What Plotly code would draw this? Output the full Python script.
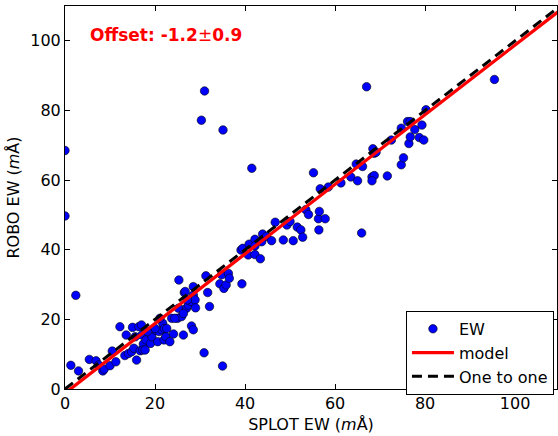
import plotly.graph_objects as go

splot_ew = [0.0, 0.0, 1.3, 2.4, 3.0, 5.4, 6.9, 7.5, 8.4, 8.7, 10.0, 10.5, 11.3, 12.2, 13.3, 13.6,
            14.1, 14.8, 15.3, 15.0, 15.6, 15.9, 16.4, 16.7, 17.0, 17.1, 17.4, 17.3, 18.0, 17.8,
            19.0, 19.3, 20.2, 20.6, 20.9, 21.5, 21.7, 22.0, 22.1, 22.4, 22.6, 23.3, 23.7, 24.1,
            25.0, 25.3, 25.9, 26.3, 26.3, 26.5, 27.0, 27.4, 28.1, 28.1, 28.5, 28.5, 28.5, 28.9,
            30.3, 30.9, 31.0, 31.3, 31.7, 32.1, 34.4, 34.8, 35.0, 35.1, 35.3, 35.8, 36.3, 36.5,
            39.1, 39.3, 39.5, 40.7, 40.9, 41.5, 42.2, 42.2, 42.2, 43.4, 43.7, 43.9, 44.8, 45.9,
            46.7, 48.5, 49.3, 50.0, 50.7, 51.6, 52.4, 52.8, 53.5, 54.1, 55.2, 56.3, 56.5, 56.4,
            57.8, 56.7, 58.5, 61.3, 63.5, 64.7, 65.0, 65.9, 66.1, 67.0, 68.2, 68.7, 68.2, 68.4,
            68.7, 69.1, 71.6, 72.5, 74.7, 74.7, 75.2, 76.1, 76.7, 76.4, 76.7, 77.7, 78.7, 79.3,
            79.7, 80.2, 95.4, 29.0, 26.7, 27.2, 25.2, 24.4, 21.1, 20.0, 18.3, 26.3]
robo_ew = [68.5, 49.7, 6.8, 26.9, 5.2, 8.5, 8.1, 6.9, 5.2, 5.7, 6.7, 10.9, 7.8, 17.9, 9.6, 15.5,
           10.2, 10.7, 11.7, 17.7, 15.0, 8.3, 17.9, 11.0, 18.4, 15.5, 12.9, 11.2, 14.1, 11.2,
           13.1, 15.0, 16.8, 13.6, 16.5, 17.0, 18.9, 14.1, 17.4, 15.0, 17.4, 13.6, 20.3, 15.8,
           20.3, 31.3, 20.8, 15.5, 22.7, 27.7, 23.2, 24.1, 25.1, 18.1, 17.0, 27.0, 29.4, 25.6,
           77.2, 10.4, 85.6, 32.5, 27.7, 23.7, 30.2, 32.8, 6.6, 74.4, 28.9, 29.9, 33.2, 31.8,
           39.9, 30.2, 40.4, 38.5, 41.6, 63.4, 43.0, 38.6, 41.1, 37.4, 42.3, 44.5, 43.8, 42.6,
           47.9, 42.8, 47.1, 48.1, 42.6, 46.5, 45.7, 43.6, 51.5, 50.1, 62.1, 48.9, 51.0, 45.7,
           48.9, 57.5, 58.0, 59.2, 60.9, 64.6, 59.8, 44.8, 63.9, 86.8, 60.9, 61.3, 59.8, 69.0,
           67.7, 68.0, 61.2, 71.5, 74.9, 64.4, 66.4, 76.8, 76.8, 70.5, 72.4, 74.5, 72.2, 75.8,
           71.5, 80.2, 88.9, 23.3, 28.0, 25.6, 23.2, 20.3, 20.3, 17.4, 16.5, 21.7]

line_x = [0, 110]
offset = -1.2
offset_err = 0.9
model_y = [v + offset for v in line_x]
one_to_one_y = line_x

x_ticks = [0, 20, 40, 60, 80, 100]
y_ticks = [0, 20, 40, 60, 80, 100]

FONT = "DejaVu Sans"

fig = go.Figure()
fig.add_trace(go.Scatter(x=splot_ew, y=robo_ew, mode="markers", name="EW",
                         marker=dict(color="#0000ff", size=8.5,
                                     line=dict(color="black", width=0.6))))
fig.add_trace(go.Scatter(x=line_x, y=model_y, mode="lines", name="model",
                         line=dict(color="#ff0000", width=3.3)))
fig.add_trace(go.Scatter(x=line_x, y=one_to_one_y, mode="lines", name="One to one",
                         line=dict(color="black", width=3, dash="10px,6px")))

fig.add_annotation(x=0.047, xref="paper", y=101.7, yref="y", xanchor="left",
                   yanchor="middle", showarrow=False,
                   text=f"<b>Offset: {offset}</b>±<b>{offset_err}</b>",
                   font=dict(family=FONT, size=17, color="#ff0000"))

axis_common = dict(showline=True, linecolor="black", linewidth=1, mirror="allticks",
                   ticks="inside", ticklen=5, tickcolor="black", showgrid=False,
                   zeroline=False, tickfont=dict(family=FONT, size=16, color="black"))

fig.update_xaxes(range=[0, 109.3], tickvals=x_ticks,
                 title=dict(text="SPLOT EW (<i>m</i>Å)", standoff=6,
                            font=dict(family=FONT, size=16, color="black")),
                 **axis_common)
fig.update_yaxes(range=[0, 110], tickvals=y_ticks,
                 title=dict(text="ROBO EW (<i>m</i>Å)", standoff=6,
                            font=dict(family=FONT, size=16, color="black")),
                 **axis_common)

fig.update_layout(width=558, height=436, margin=dict(l=65, r=1, t=6, b=47),
                  plot_bgcolor="white", paper_bgcolor="white",
                  font=dict(family=FONT, size=16, color="black"),
                  legend=dict(x=0.693, y=0.204, xanchor="left", yanchor="top",
                              bgcolor="white", bordercolor="black", borderwidth=1,
                              itemwidth=42,
                              font=dict(family=FONT, size=16, color="black"),
                              tracegroupgap=0))

fig.write_html("out.html", config={"displayModeBar": False},
               post_script="document.body.style.margin='0px';document.body.style.padding='0px';")
